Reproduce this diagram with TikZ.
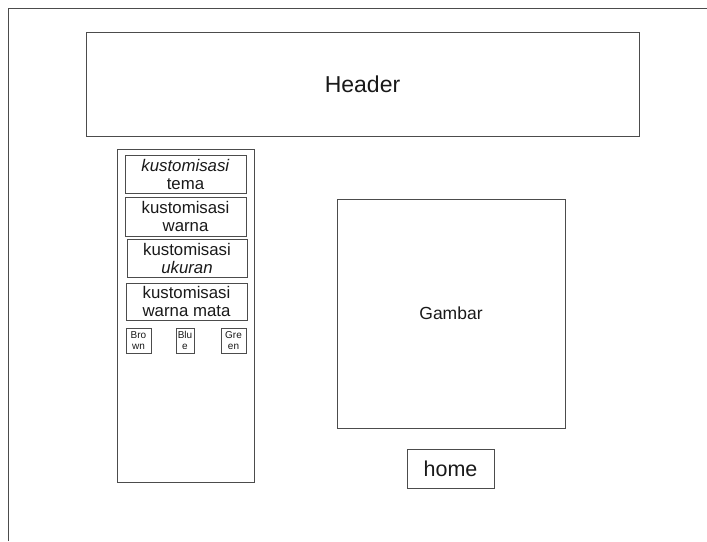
\documentclass[tikz,border=0pt]{standalone}
\usepackage{fontspec}
\setmainfont{Liberation Sans}
\begin{document}
\begin{tikzpicture}[x=1pt,y=-1pt,
  frame/.style={draw=black!70, line width=0.9pt},
  box/.style={frame, rectangle, inner sep=0pt, align=center, text=black!90},
  btn/.style={box, font=\fontsize{16.8}{18}\selectfont},
  tiny/.style={box, font=\fontsize{10}{11.5}\selectfont}]
\useasboundingbox (0,0) rectangle (707,541);
\coordinate (tl) at (8,8);
\coordinate (tr) at (707,8);
\coordinate (bl) at (8,541);
\draw[frame] (bl) -- (tl) -- (tr);
\node[box, minimum width=553pt, minimum height=104pt, font=\fontsize{23}{26}\selectfont] (header) at (362.5,84) {Header};
\node[box, minimum width=137pt, minimum height=333pt] (panel) at (185.5,315.5) {};
\node[btn, minimum width=121pt, minimum height=38pt] (b1) at (185.5,174) {\textit{kustomisasi}\\tema};
\node[btn, minimum width=121pt, minimum height=39pt] (b2) at (185.5,216.5) {kustomisasi\\warna};
\node[btn, minimum width=120pt, minimum height=38pt] (b3) at (187,258) {kustomisasi\\\textit{ukuran}};
\node[btn, minimum width=121pt, minimum height=37pt] (b4) at (186.5,301.5) {kustomisasi\\warna mata};
\node[tiny, minimum width=25pt, minimum height=25pt] (brown) at (138.5,340.5) {Bro\\wn};
\node[tiny, minimum width=18pt, minimum height=25pt] (blue) at (185,340.5) {Blu\\e};
\node[tiny, minimum width=25pt, minimum height=25pt] (green) at (233.5,340.5) {Gre\\en};
\node[box, minimum width=228pt, minimum height=229pt, font=\fontsize{17.5}{20}\selectfont] (gambar) at (451,313.5) {Gambar};
\node[box, minimum width=87pt, minimum height=39pt, font=\fontsize{21.5}{24}\selectfont] (home) at (450.5,468.5) {home};
\end{tikzpicture}
\end{document}
